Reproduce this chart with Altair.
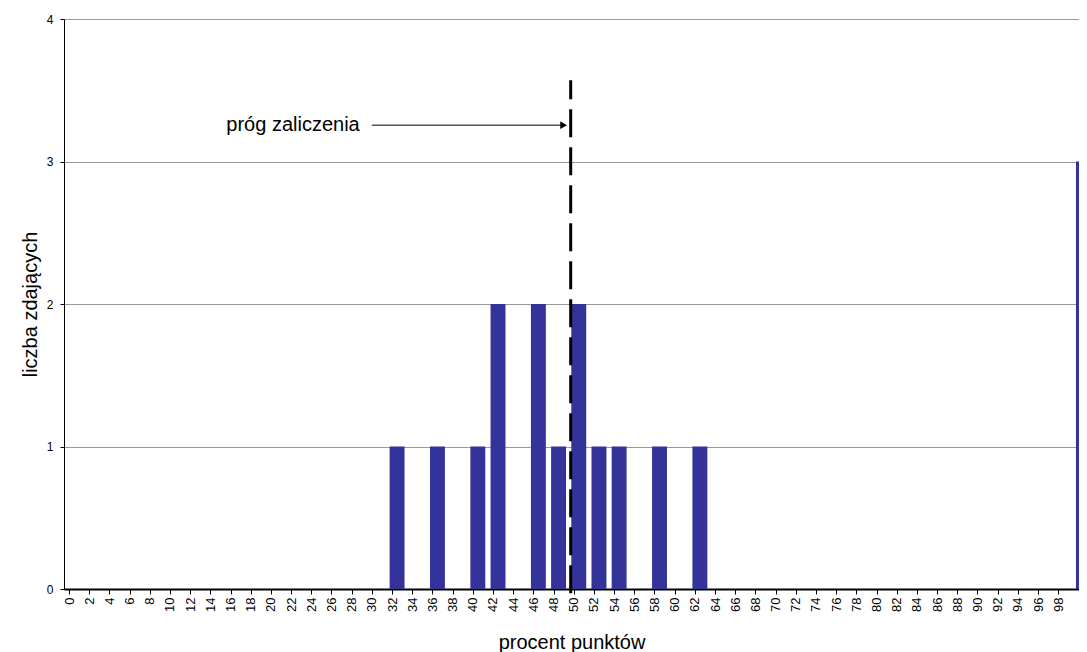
import altair as alt
import pandas as pd

# percent-of-points categories (0..100 step 2) and number of examinees
pct = list(range(0, 101, 2))
counts = [0, 0, 0, 0, 0, 0, 0, 0, 0, 0,   # 0-18
          0, 0, 0, 0, 0, 0, 1, 0, 1, 0,   # 20-38
          1, 2, 0, 2, 1, 2, 1, 1, 0, 1,   # 40-58
          0, 1, 0, 0, 0, 0, 0, 0, 0, 0,   # 60-78
          0, 0, 0, 0, 0, 0, 0, 0, 0, 0,   # 80-98
          3]                              # 100
y_ticks = [0, 1, 2, 3, 4]

threshold_x = 49.2
threshold_y = [-0.03, 3.57]
arrow_y = 3.255
arrow_x = [29.5, 48.3]
arrowhead_x = 48.5
label_x = 28.3
label_text = "próg zaliczenia"

FONT = "Liberation Sans"
X_DOMAIN = [-1, 99.56]
W, H = 1015, 570
half_unit_px = W / (X_DOMAIN[1] - X_DOMAIN[0]) / 2

xscale = alt.Scale(domain=X_DOMAIN, nice=False, zero=False, padding=0)
yscale = alt.Scale(domain=[0, 4], nice=False, zero=False, padding=0)

x_axis = alt.Axis(
    values=pct,
    tickOffset=-half_unit_px,
    labelAngle=-90,
    labelFontSize=13,
    labelColor="black",
    labelPadding=3,
    ticks=True,
    tickSize=5,
    tickColor="black",
    tickWidth=1,
    domainColor="black",
    domainWidth=2,
    grid=False,
    labelOverlap=False,
    labelFont=FONT,
    titleFont=FONT,
    titleFontSize=20,
    titleFontWeight="normal",
    titleColor="black",
    titlePadding=21,
)
y_axis = alt.Axis(
    values=y_ticks,
    format="d",
    labelFontSize=12,
    labelColor="black",
    labelPadding=7,
    tickSize=4,
    tickColor="black",
    domainColor="black",
    domainWidth=1,
    grid=True,
    gridColor="#999999",
    gridWidth=1,
    labelFont=FONT,
    titleFont=FONT,
    titleFontSize=20,
    titleFontWeight="normal",
    titleColor="black",
    titlePadding=6,
)

bars_df = pd.DataFrame({"pct": pct, "n": counts})

bars = (
    alt.Chart(bars_df)
    .transform_filter("datum.n > 0")
    .transform_calculate(x0="datum.pct - 0.74", x1="datum.pct + 0.74", base="0")
    .mark_rect(color="#333399", clip=True)
    .encode(
        x=alt.X("x0:Q", scale=xscale, title="procent punktów", axis=x_axis),
        x2="x1:Q",
        y=alt.Y("n:Q", scale=yscale, title="liczba zdających", axis=y_axis),
        y2="base:Q",
    )
)

thr_df = pd.DataFrame({"x": [threshold_x], "y0": [threshold_y[0]], "y1": [threshold_y[1]]})
threshold = (
    alt.Chart(thr_df)
    .mark_rule(color="black", strokeWidth=3, strokeDash=[28, 10])
    .encode(x=alt.X("x:Q", scale=xscale, title="procent punktów", axis=x_axis),
            y=alt.Y("y0:Q", scale=yscale, title="liczba zdających", axis=y_axis), y2="y1:Q")
)

arrow_df = pd.DataFrame({"xa": [arrow_x[0]], "xb": [arrow_x[1]], "y": [arrow_y]})
arrow = (
    alt.Chart(arrow_df)
    .mark_rule(color="black", strokeWidth=1)
    .encode(x=alt.X("xa:Q", scale=xscale, title="procent punktów", axis=x_axis), x2="xb:Q",
            y=alt.Y("y:Q", scale=yscale, title="liczba zdających", axis=y_axis))
)

head_df = pd.DataFrame({"x": [arrowhead_x], "y": [arrow_y]})
head = (
    alt.Chart(head_df)
    .mark_point(shape="triangle-right", filled=True, color="black", size=60, opacity=1)
    .encode(x=alt.X("x:Q", scale=xscale, title="procent punktów", axis=x_axis),
            y=alt.Y("y:Q", scale=yscale, title="liczba zdających", axis=y_axis))
)

lab_df = pd.DataFrame({"x": [label_x], "y": [arrow_y], "t": [label_text]})
label = (
    alt.Chart(lab_df)
    .mark_text(align="right", baseline="middle", font=FONT, fontSize=20, color="black")
    .encode(x=alt.X("x:Q", scale=xscale, title="procent punktów", axis=x_axis),
            y=alt.Y("y:Q", scale=yscale, title="liczba zdających", axis=y_axis),
            text="t:N")
)

chart = (
    alt.layer(bars, threshold, arrow, head, label)
    .properties(
        width=W,
        height=H,
        autosize=alt.AutoSizeParams(type="none"),
        padding={"left": 56, "top": 11, "right": 0, "bottom": 63},
        background="white",
    )
    .configure_view(strokeWidth=0)
    .configure_axisX(labelOverlap=False)
    .configure_axis(labelOverlap=False)
)

chart.save("out.html", embed_options={"renderer": "svg", "actions": False})
